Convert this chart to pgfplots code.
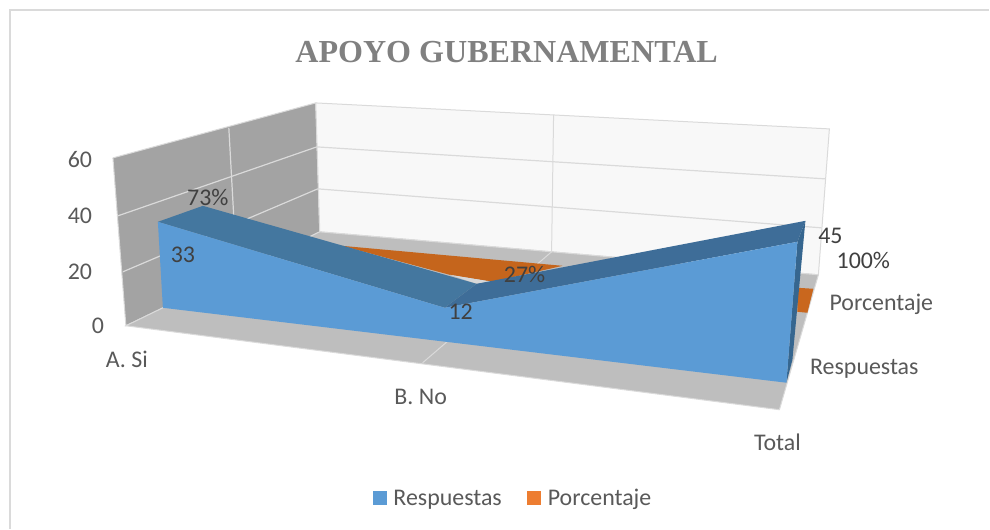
\documentclass[border=0pt]{standalone}
\usepackage{pgfplots}
\pgfplotsset{compat=1.18}
\usepackage{fontspec}
\setmainfont{Carlito}
\newfontfamily\titlefont{Liberation Serif}
\definecolor{wallL}{HTML}{A3A3A3}
\definecolor{wallB}{HTML}{F8F8F8}
\definecolor{floorC}{HTML}{BEBEBE}
\definecolor{gridC}{HTML}{DADADA}
\definecolor{blueF}{HTML}{5B9BD5}
\definecolor{blueT}{HTML}{44779F}
\definecolor{blueR}{HTML}{3E6D98}
\definecolor{blueS}{HTML}{36668F}
\definecolor{orangeT}{HTML}{C5651C}
\definecolor{orangeL}{HTML}{ED7D31}
\definecolor{txt}{HTML}{404040}
\definecolor{txtL}{HTML}{595959}
\tikzset{lab/.style={font=\fontsize{24}{26}\selectfont,text=txtL},
         dat/.style={font=\fontsize{24}{26}\selectfont,text=txt}}
\begin{document}
\begin{tikzpicture}
% Excel-style perspective 3-D area chart. pgfplots has no perspective view,
% so the series Respuestas (33,12,45) and Porcentaje (73%,27%,100%) are given
% as their projected positions on the page, in reference pixels.
\begin{axis}[
  width=990bp,height=529bp,scale only axis,
  xmin=0,xmax=990,ymin=0,ymax=529,y dir=reverse,
  axis line style={draw=none},tick style={draw=none},
  xtick=\empty,ytick=\empty,clip=false,
]
% frame
\addplot[forget plot,draw=gridC,line width=1.5bp] coordinates {(10,529)(10,10)(990,10)};
% walls and floor
\addplot[forget plot,fill=wallL,draw=gridC,line width=1bp] coordinates {(113,158)(316,103)(320,232)(126,326)(113,158)};
\addplot[forget plot,fill=wallB,draw=gridC,line width=1bp] coordinates {(316,103)(830,129)(819,275)(320,232)(316,103)};
\addplot[forget plot,fill=floorC,draw=gridC,line width=1bp] coordinates {(320,232)(819,275)(780,410)(126,326)(320,232)};
% grid
\addplot[forget plot,draw=gridC,line width=1.2bp] coordinates {(118,216)(317,147)(826,179)};
\addplot[forget plot,draw=gridC,line width=1.2bp] coordinates {(123,272)(318,189)(822,228)};
\addplot[forget plot,draw=gridC,line width=1.2bp] coordinates {(229,128)(237,272)};
\addplot[forget plot,draw=gridC,line width=1bp] coordinates {(554,115)(552,252)(423,363)};
% Porcentaje
\addplot[forget plot,fill=orangeT,draw=none] coordinates {(342,246)(563,266)(493,282)(450,275)(342,246)};
\addplot[forget plot,fill=orangeT!90!orangeL,draw=none] coordinates {(798,288)(814,289)(808,313)(798,312)};
\addplot[forget plot,fill=floorC!60!white,draw=none] coordinates {(450,275)(477,284)(493,282)};
% Respuestas
\addplot[forget plot,fill=blueT,draw=none] coordinates {(158,222)(203,206)(477,284)(445,308)(158,222)};
\addplot[forget plot,fill=blueR,draw=none] coordinates {(445,308)(477,284)(806,221)(798,242)(445,308)};
\addplot[forget plot,fill=blueS,draw=none] coordinates {(798,242)(806,221)(793,360)(787,383)};
\addplot[forget plot,fill=blueF,draw=none] coordinates {(158,222)(445,308)(798,242)(787,383)(163,308)(158,222)};
% legend swatches
\addplot[forget plot,fill=blueF,draw=none] coordinates {(373,491)(387,491)(387,505)(373,505)};
\addplot[forget plot,fill=orangeL,draw=none] coordinates {(527,491)(541,491)(541,505)(527,505)};
\node[lab] at (axis cs:448,500) {Respuestas};
\node[lab] at (axis cs:600,500) {Porcentaje};
% text
\node[font=\titlefont\bfseries\fontsize{32.2}{36}\selectfont,text=black!50] at (axis cs:507,52) {APOYO GUBERNAMENTAL};
\node[lab] at (axis cs:80,160) {60};
\node[lab] at (axis cs:80,216) {40};
\node[lab] at (axis cs:80,272) {20};
\node[lab] at (axis cs:98,326) {0};
\node[lab] at (axis cs:127,360) {A. Si};
\node[lab] at (axis cs:421,397) {B. No};
\node[lab] at (axis cs:778,443) {Total};
\node[lab] at (axis cs:882,305) {Porcentaje};
\node[lab] at (axis cs:865,369) {Respuestas};
\node[dat] at (axis cs:183,255) {33};
\node[dat] at (axis cs:208,198) {73\%};
\node[dat] at (axis cs:461,312) {12};
\node[dat] at (axis cs:525,275) {27\%};
\node[dat] at (axis cs:831,236) {45};
\node[dat] at (axis cs:864,261) {100\%};
\end{axis}
\end{tikzpicture}
\end{document}
